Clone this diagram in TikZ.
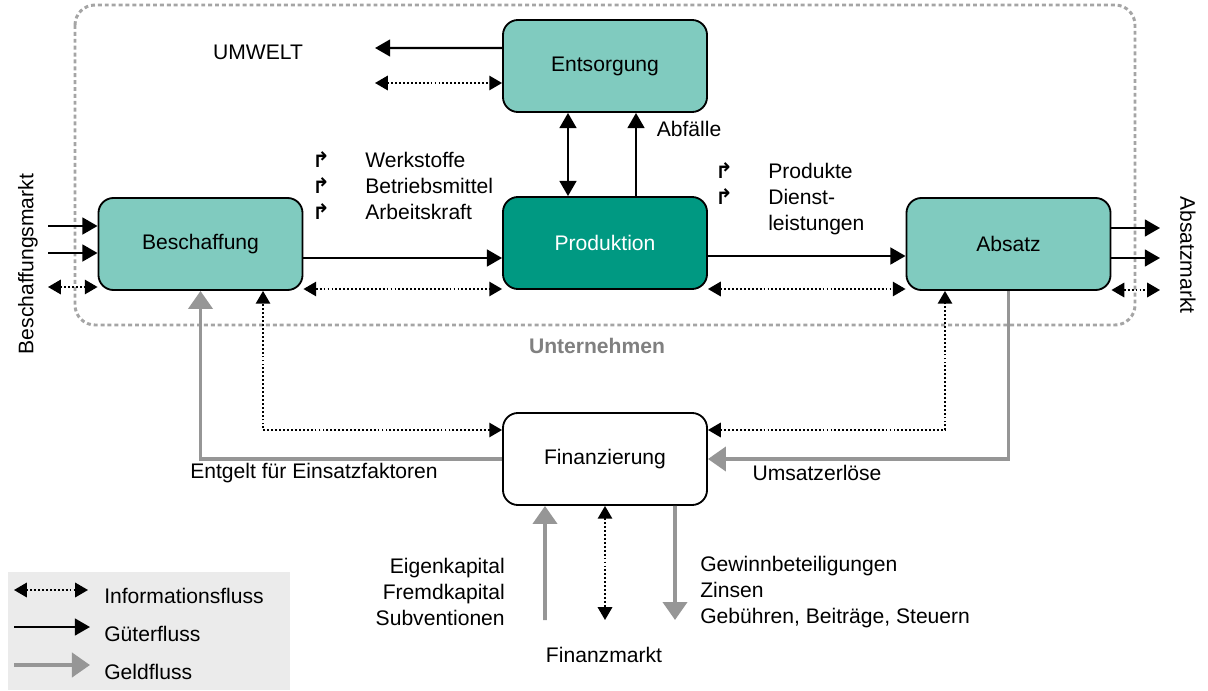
\documentclass[tikz,border=0pt]{standalone}
\usepackage{fontspec}
\setmainfont{Liberation Sans}
\newfontfamily\symfont{DejaVu Sans}
\usetikzlibrary{arrows.meta}
\definecolor{hellgruen}{RGB}{128,203,191}
\definecolor{dunkelgruen}{RGB}{0,153,130}
\definecolor{geldgrau}{RGB}{150,150,150}
\definecolor{rahmengrau}{RGB}{165,165,165}
\definecolor{legendegrau}{RGB}{235,235,235}
\newcommand{\knick}{\makebox[1.325cm][l]{\symfont\bfseries\fontsize{15}{15}\selectfont ↱}}
\begin{document}
\begin{tikzpicture}[x=0.025cm, y=-0.025cm, font=\fontsize{15}{18.5}\selectfont]

	\tikzstyle{box}=[draw, line width=1.3pt, rounded corners=0.375cm, minimum width=5.1cm, minimum height=2.3cm, fill=hellgruen]
	\tikzstyle{gut}=[line width=1.7pt, -{Triangle[length=0.38cm, width=0.42cm]}]
	\tikzstyle{gutbeide}=[line width=1.7pt, {Triangle[length=0.38cm, width=0.42cm]}-{Triangle[length=0.38cm, width=0.42cm]}]
	\tikzstyle{info}=[line width=1.3pt, dash pattern=on 1.3pt off 1.5pt, {Triangle[length=0.32cm, width=0.36cm]}-{Triangle[length=0.32cm, width=0.36cm]}]
	\tikzstyle{geld}=[geldgrau, line width=2.8pt, -{Triangle[length=0.45cm, width=0.6cm]}]
	\tikzstyle{rahmen}=[rahmengrau, line width=2.1pt, dash pattern=on 2.8pt off 2.1pt, rounded corners=0.5cm]

	\useasboundingbox (0,0) rectangle (1208,690);

	%%%%%%% UNTERNEHMEN %%%%%%%%
	\draw[rahmen] (75,5) rectangle (1135,325);
	\node[font=\fontsize{15}{18.5}\selectfont\bfseries, text=gray] (unternehmen) at (597,346) {Unternehmen};
	\node (umwelt) at (258,52) {UMWELT};

	\coordinate (ents) at (605,66);
	\coordinate (prod) at (605,243);
	\coordinate (besch) at (200.5,244);
	\coordinate (absatz) at (1008.5,244);
	\coordinate (fin) at (605,459);

	\node[box] (ents) at (ents) {Entsorgung};
	\node[box, fill=dunkelgruen, text=white] (prod) at (prod) {Produktion};
	\node[box] (besch) at (besch) {Beschaffung};
	\node[box] (absatz) at (absatz) {Absatz};
	\node[box, fill=white] (fin) at (fin) {Finanzierung};

	%%%%%%% MAERKTE %%%%%%%%
	\node[rotate=90] (bmarkt) at (28,264) {Beschaffungsmarkt};
	\node[rotate=-90] (amarkt) at (1188,255) {Absatzmarkt};
	\node (fmarkt) at (604,655) {Finanzmarkt};

	\coordinate (umw_1) at (375,48);
	\coordinate (umw_2) at (375,83);
	\coordinate (bm_1) at (48,226);
	\coordinate (bm_2) at (48,253);
	\coordinate (bm_3) at (48,287);
	\coordinate (am_1) at (1160,228);
	\coordinate (am_2) at (1160,258);
	\coordinate (am_3) at (1160,290);
	\coordinate (fm_1) at (545,620);
	\coordinate (fm_2) at (605,620);
	\coordinate (fm_3) at (675,620);
	\coordinate (g_1) at (0,258); % GUETER BESCHAFFUNG
	\coordinate (g_2) at (0,256); % GUETER ABSATZ
	\coordinate (i_1) at (0,289); % INFO UNTEN

	%%%%%%% GUETERFLUSS %%%%%%%%
	\draw[gut] ([yshift=0.45cm]ents.west) -- (umw_1);
	\draw[gutbeide] ([xshift=-0.925cm]ents.south) -- ([xshift=-0.925cm]prod.north);
	\draw[gut] ([xshift=0.775cm]prod.north) -- ([xshift=0.775cm]ents.south);
	\node (abfall) at (689,129) {Abfälle};

	\draw[gut] (bm_1) -- (bm_1 -| besch.west);
	\draw[gut] (bm_2) -- (bm_2 -| besch.west);
	\draw[gut] (g_1 -| besch.east) -- (g_1 -| prod.west);
	\draw[gut] (g_2 -| prod.east) -- (g_2 -| absatz.west);
	\draw[gut] (am_1 -| absatz.east) -- (am_1);
	\draw[gut] (am_2 -| absatz.east) -- (am_2);

	\node[anchor=west, align=left, inner sep=0pt] (einsatz) at (312,186) {\knick Werkstoffe\\\knick Betriebsmittel\\\knick Arbeitskraft};
	\node[anchor=west, align=left, inner sep=0pt] (ausbringung) at (715,199) {\knick Produkte\\\knick Dienst-\\\makebox[1.325cm]{}leistungen};

	%%%%%%% INFORMATIONSFLUSS %%%%%%%%
	\draw[info] (umw_2) -- (umw_2 -| ents.west);
	\draw[info] (bm_3) -- (bm_3 -| besch.west);
	\draw[info] (i_1 -| besch.east) -- (i_1 -| prod.west);
	\draw[info] (i_1 -| prod.east) -- (i_1 -| absatz.west);
	\draw[info] (am_3 -| absatz.east) -- (am_3);
	\draw[info] ([yshift=0.725cm]fin.west) -| ([xshift=1.5625cm]besch.south);
	\draw[info] ([yshift=0.725cm]fin.east) -| ([xshift=-1.5875cm]absatz.south);
	\draw[info] (fin.south) -- (fm_2);

	%%%%%%% GELDFLUSS %%%%%%%%
	\draw[geld] (fin.west) -| (besch.south);
	\draw[geld] (absatz.south) |- (fin.east);
	\draw[geld] (fm_1) -- ([xshift=-1.5cm]fin.south);
	\draw[geld] ([xshift=1.75cm]fin.south) -- (fm_3);
	\node (entgelt) at (314,473) {Entgelt für Einsatzfaktoren};
	\node (umsatz) at (817,473) {Umsatzerlöse};
	\node[anchor=east, align=right, inner sep=0pt] (kapital) at (505,592) {Eigenkapital\\Fremdkapital\\Subventionen};
	\node[anchor=west, align=left, inner sep=0pt] (abgaben) at (700,592) {Gewinnbeteiligungen\\Zinsen\\Gebühren, Beiträge, Steuern};

	%%%%%%% LEGENDE %%%%%%%%
	\fill[legendegrau] (8,572) rectangle (290,690);
	\coordinate (l_1a) at (14,590);
	\coordinate (l_1b) at (88,590);
	\coordinate (l_2a) at (14,627);
	\coordinate (l_2b) at (90,627);
	\coordinate (l_3a) at (14,665);
	\coordinate (l_3b) at (90,665);
	\draw[info] (l_1a) -- (l_1b);
	\draw[gut] (l_2a) -- (l_2b);
	\draw[geld] (l_3a) -- (l_3b);
	\node[anchor=west, inner sep=0pt] (leg_info) at (104,596) {Informationsfluss};
	\node[anchor=west, inner sep=0pt] (leg_gut) at (104,634) {Güterfluss};
	\node[anchor=west, inner sep=0pt] (leg_geld) at (104,672) {Geldfluss};
\end{tikzpicture}
\end{document}
